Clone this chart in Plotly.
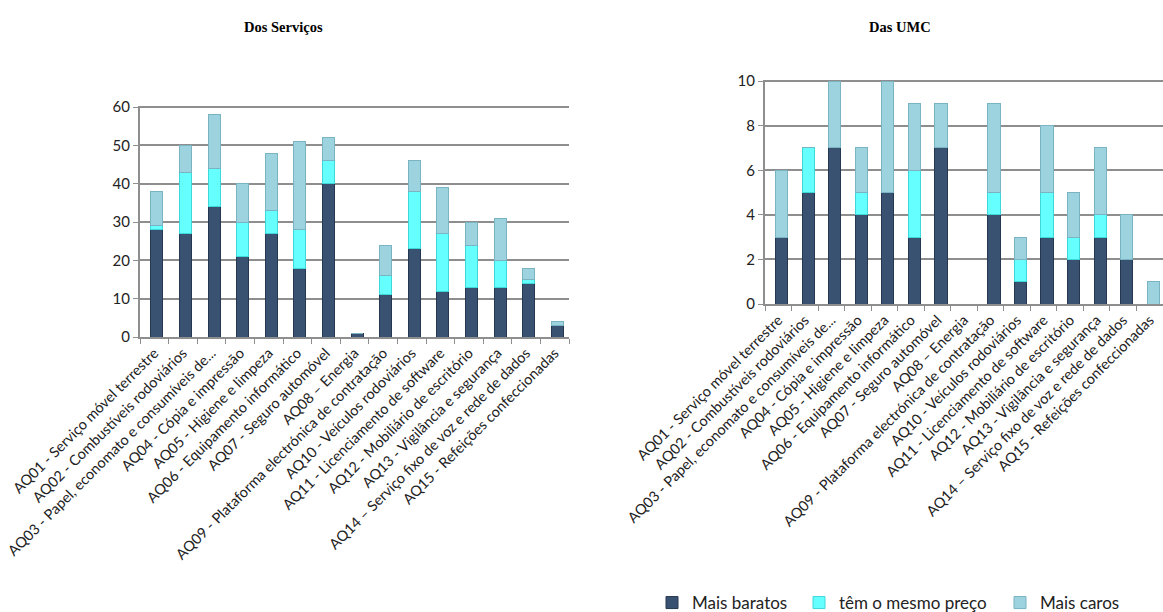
import plotly.graph_objects as go

categories = [
    "AQ01 - Serviço móvel terrestre",
    "AQ02 - Combustíveis rodoviários",
    "AQ03 - Papel, economato e consumíveis de...",
    "AQ04 - Cópia e impressão",
    "AQ05 - Higiene e limpeza",
    "AQ06 - Equipamento informático",
    "AQ07 - Seguro automóvel",
    "AQ08 – Energia",
    "AQ09 - Plataforma electrónica de contratação",
    "AQ10 - Veículos rodoviários",
    "AQ11 - Licenciamento de software",
    "AQ12 - Mobiliário de escritório",
    "AQ13 - Vigilância e segurança",
    "AQ14 – Serviço fixo de voz e rede de dados",
    "AQ15 - Refeições confeccionadas",
]

series_names = ["Mais baratos", "têm o mesmo preço", "Mais caros"]

servicos_baratos = [28, 27, 34, 21, 27, 18, 40, 1, 11, 23, 12, 13, 13, 14, 3]
servicos_mesmo = [1, 16, 10, 9, 6, 10, 6, 0, 5, 15, 15, 11, 7, 1, 0]
servicos_caros = [9, 7, 14, 10, 15, 23, 6, 0, 8, 8, 12, 6, 11, 3, 1]

umc_baratos = [3, 5, 7, 4, 5, 3, 7, 0, 4, 1, 3, 2, 3, 2, 0]
umc_mesmo = [0, 2, 0, 1, 0, 3, 0, 0, 1, 1, 2, 1, 1, 0, 0]
umc_caros = [3, 0, 3, 2, 5, 3, 2, 0, 4, 1, 3, 2, 3, 2, 1]

left_ticks = [0, 10, 20, 30, 40, 50, 60]
right_ticks = [0, 2, 4, 6, 8, 10]

colors = ["#3A5272", "#66FFFF", "#9DD2DF"]
edge = ["#26384F", "#3FD8D8", "#7AB3C2"]
legend_ids = ["legend", "legend2", "legend3"]

fig = go.Figure()

for i, (name, vals) in enumerate(zip(series_names, [servicos_baratos, servicos_mesmo, servicos_caros])):
    fig.add_trace(go.Bar(
        x=categories, y=vals, name=name, xaxis="x", yaxis="y",
        marker=dict(color=colors[i], line=dict(color=edge[i], width=1)),
        width=0.42, offset=-0.12, showlegend=False,
    ))

for i, (name, vals) in enumerate(zip(series_names, [umc_baratos, umc_mesmo, umc_caros])):
    fig.add_trace(go.Bar(
        x=categories, y=vals, name=name, xaxis="x2", yaxis="y2",
        marker=dict(color=colors[i], line=dict(color=edge[i], width=1)),
        width=0.46, offset=-0.1, showlegend=True, legend=legend_ids[i],
    ))

font_family = "Lato, 'Liberation Sans', sans-serif"
grid_col = "#8E8E8E"

common_x = dict(
    type="category", tickangle=-45, tickson="boundaries", ticks="outside",
    ticklen=5, tickcolor=grid_col, showline=True, linecolor=grid_col, linewidth=2,
    tickfont=dict(family=font_family, size=14.5, color="#222222"),
    showgrid=False, automargin=False,
)
common_y = dict(
    showgrid=True, gridcolor=grid_col, gridwidth=2, showline=True,
    linecolor=grid_col, linewidth=2, ticks="outside", ticklen=5, tickcolor=grid_col,
    tickfont=dict(family=font_family, size=15, color="#222222"),
    zeroline=False, automargin=False,
)

legend_font = dict(family=font_family, size=17, color="#222222")
legend_x_px = [652, 799, 1000]

fig.update_layout(
    width=1163, height=612,
    margin=dict(l=0, r=0, t=0, b=0, autoexpand=False),
    paper_bgcolor="white", plot_bgcolor="white",
    barmode="stack",
    xaxis=dict(domain=[140/1163, 569/1163], anchor="y", **common_x),
    yaxis=dict(domain=[275/612, 506/612], anchor="x", range=[0, 60.3],
               tickvals=left_ticks, **common_y),
    xaxis2=dict(domain=[765/1163, 1.0], anchor="y2", **common_x),
    yaxis2=dict(domain=[308/612, 532/612], anchor="x2", range=[0, 10.05],
                tickvals=right_ticks, **common_y),
    annotations=[
        dict(text="<b>Dos Serviços</b>", x=283/1163, y=1 - 27/612, xref="paper", yref="paper",
             xanchor="center", yanchor="middle", showarrow=False,
             font=dict(family="'Liberation Serif', serif", size=14.5, color="black")),
        dict(text="<b>Das UMC</b>", x=900/1163, y=1 - 27/612, xref="paper", yref="paper",
             xanchor="center", yanchor="middle", showarrow=False,
             font=dict(family="'Liberation Serif', serif", size=14.5, color="black")),
    ],
)

for lid, xp in zip(legend_ids, legend_x_px):
    fig.update_layout({lid: dict(orientation="h", x=xp/1163, y=9/612, xanchor="left",
                                 yanchor="middle", xref="container", yref="container",
                                 font=legend_font, itemwidth=30,
                                 bgcolor="rgba(0,0,0,0)")})

fig.write_html("out.html")
